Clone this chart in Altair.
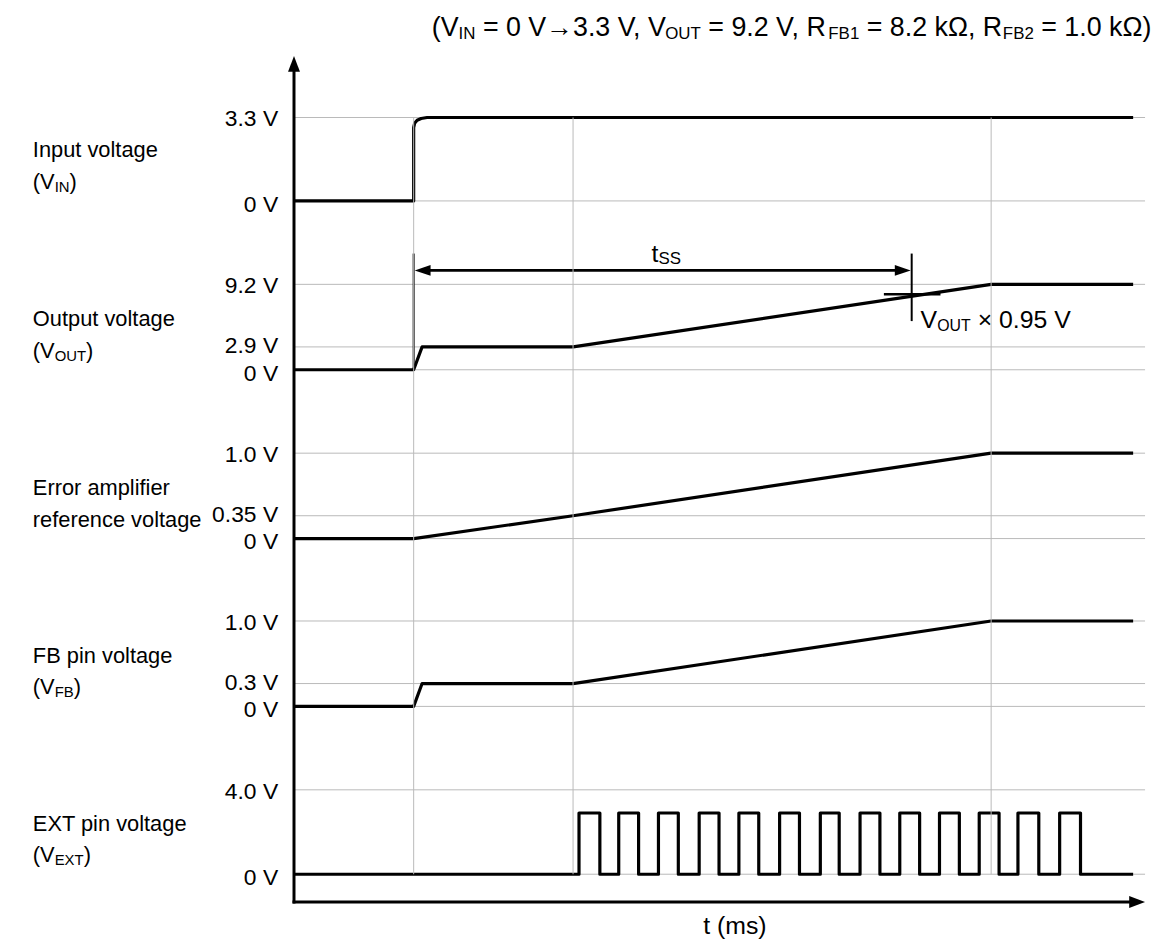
import altair as alt
import pandas as pd

# ===================== values =====================
# schematic time axis (ms): t = 0 at the vertical axis
vin_t = [0.0, 1.205, 1.205, 1.215, 1.24, 1.28, 1.34, 8.45]
vin_v = [0.0, 0.0, 2.90, 3.08, 3.19, 3.26, 3.30, 3.30]

vout_t = [0.0, 1.205, 1.29, 2.81, 7.02, 8.45]
vout_v = [0.0, 0.0, 2.9, 2.9, 9.2, 9.2]

err_t = [0.0, 1.205, 2.81, 7.02, 8.45]
err_v = [0.0, 0.0, 0.35, 1.0, 1.0]

fb_t = [0.0, 1.205, 1.29, 2.81, 7.02, 8.45]
fb_v = [0.0, 0.0, 0.3, 0.3, 1.0, 1.0]

ext_rise = [2.87, 3.27, 3.67, 4.08, 4.48, 4.89, 5.30, 5.70, 6.10, 6.50, 6.90, 7.29, 7.71]
ext_fall = [3.08, 3.47, 3.87, 4.28, 4.68, 5.09, 5.49, 5.90, 6.30, 6.70, 7.10, 7.50, 7.92]
ext_high = 2.9
ext_t_end = 8.45

event_t = [1.205, 2.81, 7.02]          # vertical reference lines
tss_t = [1.205, 6.22]                  # soft-start interval t_SS
tss_level = 10.6                       # arrow height on the V_OUT lane (V)
marker_top = 12.3
marker2_bottom = 5.5
vout95_level = 8.2
vout95_span = [5.94, 6.51]

lane_titles = ["Input voltage", "Output voltage", "Error amplifier",
               "FB pin voltage", "EXT pin voltage"]
lane_second = [
    [("(V", 0), ("IN", 1), (")", 0)],
    [("(V", 0), ("OUT", 1), (")", 0)],
    [("reference voltage", 0)],
    [("(V", 0), ("FB", 1), (")", 0)],
    [("(V", 0), ("EXT", 1), (")", 0)],
]
lane_ticks = [[0, 3.3], [0, 2.9, 9.2], [0, 0.35, 1.0], [0, 0.3, 1.0], [0, 4.0]]
lane_tick_labels = [["0 V", "3.3 V"], ["0 V", "2.9 V", "9.2 V"],
                    ["0 V", "0.35 V", "1.0 V"], ["0 V", "0.3 V", "1.0 V"],
                    ["0 V", "4.0 V"]]
lane_tick_kind = [["zero", "top"], ["zero", "mid", "top"], ["zero", "mid", "top"],
                  ["zero", "mid", "top"], ["zero", "top"]]

title_segments = [("(V", 0), ("IN", 1), (" = 0 V\u21923.3 V, V", 0), ("OUT", 1),
                  (" = 9.2 V, R", 0), ("FB1", 1), (" = 8.2 k\u03a9, R", 0),
                  ("FB2", 1), (" = 1.0 k\u03a9)", 0)]
tss_segments = [("t", 0), ("SS", 1)]
vout95_segments = [("V", 0), ("OUT", 1), (" \u00d7 0.95 V", 0)]
x_title = "t (ms)"

# ===================== layout / style =====================
W, H = 1153, 939
AXIS_X = 288                    # plot x of vertical axis
PX_PER_MS = 100.0
T_MIN = -AXIS_X / PX_PER_MS
T_MAX = T_MIN + W / PX_PER_MS
GRID_END_T = 8.57
LABEL_T = -2.63
lane_zero = [191, 361, 531, 700, 869]
lane_offsets = [[0, 84], [0, 23, 86], [0, 23, 86], [0, 23, 86], [0, 85]]
X_AXIS_Y = 897
Y_HEAD_Y = 53
X_HEAD_T = 8.49
FONT = "Liberation Sans"
GRID = "#b9b9b9"
INK = "#000000"
TICK_FONT = 23
TICK_DY = {"zero": 4, "mid": -1, "top": 2}
TITLE_RIGHT = 1152
HEAD_UP = "M0,-1L0.75,1L-0.75,1Z"
HEAD_RIGHT = "M1,0L-1,-0.75L-1,0.75Z"
HEAD_L_SMALL = "M-1,0L1,-0.68L1,0.68Z"
HEAD_R_SMALL = "M1,0L-1,-0.68L-1,0.68Z"

CW = {' ': 278, '(': 333, ')': 333, '=': 584, '.': 278, ',': 278,
      '\u2192': 880, '\u03a9': 768, '\u00d7': 584, 'k': 500, 't': 278, 's': 500,
      'm': 833, 'V': 667, 'I': 278, 'N': 722, 'O': 778, 'U': 722, 'T': 611,
      'R': 722, 'F': 611, 'B': 667, 'S': 667, 'E': 667, 'X': 667, 'r': 333,
      'e': 556, 'f': 278, 'n': 556, 'c': 500, 'v': 500, 'o': 556, 'l': 222,
      'a': 556, 'g': 556}


def tw(s, size):
    return sum(CW.get(c, 556) for c in s) * size / 1000.0


def rich(segments, main, sub):
    """Split a label with subscripts into positioned pieces.
    Leading spaces are rendered as an offset (text marks drop them)."""
    out, x = [], 0.0
    for s, is_sub in segments:
        size = sub if is_sub else main
        body = s.lstrip(" ")
        lead = s[:len(s) - len(body)]
        out.append((body, x + tw(lead, size), size, 3 if is_sub else 0))
        x += tw(s, size)
    return out, x


xscale = alt.Scale(domain=[T_MIN, T_MAX], nice=False, zero=False)
one = pd.DataFrame({"k": [0]})


def XF(f):
    return alt.X(f, scale=xscale, axis=None)


def XD(v):
    return alt.XDatum(v, scale=xscale, axis=None)


def line_df(ts, vs):
    return pd.DataFrame({"t": ts, "v": vs, "i": list(range(len(ts)))})


ext_pts_t, ext_pts_v = [0.0], [0.0]
for r, f in zip(ext_rise, ext_fall):
    ext_pts_t += [r, r, f, f]
    ext_pts_v += [0.0, ext_high, ext_high, 0.0]
ext_pts_t.append(ext_t_end)
ext_pts_v.append(0.0)

waves = [line_df(vin_t, vin_v), line_df(vout_t, vout_v), line_df(err_t, err_v),
         line_df(fb_t, fb_v), line_df(ext_pts_t, ext_pts_v)]


def text_pieces(segments, main, sub, x_enc, y_enc, dx0=0, dy0=0):
    pieces, _ = rich(segments, main, sub)
    return [alt.Chart(one).mark_text(
        align="left", baseline="alphabetic", dx=dx0 + dx, dy=dy0 + dy,
        fontSize=size, font=FONT, color=INK, text=s).encode(x=x_enc, y=y_enc)
        for s, dx, size, dy in pieces]


def lane_chart(i):
    ys = alt.Scale(domain=lane_ticks[i],
                   range=[lane_zero[i] - o for o in lane_offsets[i]],
                   nice=False, zero=False)

    def YF(f):
        return alt.Y(f, scale=ys, axis=None)

    def YD(v):
        return alt.YDatum(v, scale=ys, axis=None)

    ticks = pd.DataFrame({"v": lane_ticks[i], "label": lane_tick_labels[i],
                          "kind": lane_tick_kind[i]})
    layers = [
        alt.Chart(ticks).mark_rule(color=GRID, strokeWidth=1).encode(
            x=XD(0), x2=alt.X2Datum(GRID_END_T), y=YF("v:Q")),
        alt.Chart(waves[i]).mark_line(color=INK, strokeWidth=3.2, strokeJoin="round").encode(
            x=XF("t:Q"), y=YF("v:Q"), order="i:Q"),
    ]
    for kind, dy in TICK_DY.items():
        if kind not in lane_tick_kind[i]:
            continue
        layers.append(alt.Chart(ticks).transform_filter(
            alt.datum.kind == kind
        ).mark_text(align="right", baseline="middle", dx=-16, dy=dy,
                    fontSize=TICK_FONT, font=FONT, color=INK).encode(
            x=XD(0), y=YF("v:Q"), text="label:N"))
    layers.append(alt.Chart(one).mark_text(
        align="left", baseline="alphabetic", dy=-44, fontSize=22, font=FONT,
        color=INK, text=lane_titles[i]).encode(x=XD(LABEL_T), y=YD(0)))
    layers += text_pieces(lane_second[i], 22, 15, XD(LABEL_T), YD(0), dy0=-12)

    if i == 1:  # t_SS annotation on the V_OUT lane
        mk = pd.DataFrame({"t": [tss_t[0], tss_t[1]], "v0": [0.0, marker2_bottom],
                           "v1": [marker_top, marker_top]})
        layers.append(alt.Chart(mk).mark_rule(color=INK, strokeWidth=2).encode(
            x=XF("t:Q"), y=YF("v0:Q"), y2="v1:Q"))
        half = 8 / PX_PER_MS
        layers.append(alt.Chart(one).mark_rule(color=INK, strokeWidth=2.8).encode(
            x=XD(tss_t[0] + half), x2=alt.X2Datum(tss_t[1] - half), y=YD(tss_level)))
        layers.append(alt.Chart(one).mark_point(shape=HEAD_L_SMALL, size=256, filled=True,
                                                color=INK, opacity=1, strokeWidth=0).encode(
            x=XD(tss_t[0] + 0.01 + half), y=YD(tss_level)))
        layers.append(alt.Chart(one).mark_point(shape=HEAD_R_SMALL, size=256, filled=True,
                                                color=INK, opacity=1, strokeWidth=0).encode(
            x=XD(tss_t[1] - 0.01 - half), y=YD(tss_level)))
        layers.append(alt.Chart(one).mark_rule(color=INK, strokeWidth=2.6).encode(
            x=XD(vout95_span[0]), x2=alt.X2Datum(vout95_span[1]), y=YD(vout95_level)))
        layers += text_pieces(tss_segments, 25, 17, XD(3.60), YD(11.5))
        layers += text_pieces(vout95_segments, 25, 16, XD(6.31), YD(4.8))
    return alt.layer(*layers)


# ---------------- frame: axes, arrows, event lines, titles ----------------
frame = [
    alt.Chart(pd.DataFrame({"t": event_t})).mark_rule(color=GRID, strokeWidth=1).encode(
        x=XF("t:Q"), y=alt.value(lane_zero[0] - lane_offsets[0][-1]),
        y2=alt.value(lane_zero[4])),
    alt.Chart(one).mark_rule(color=INK, strokeWidth=3, strokeCap="square").encode(
        x=XD(0), y=alt.value(Y_HEAD_Y + 6), y2=alt.value(X_AXIS_Y)),
    alt.Chart(one).mark_rule(color=INK, strokeWidth=3, strokeCap="square").encode(
        x=XD(0), x2=alt.X2Datum(X_HEAD_T - 0.06), y=alt.value(X_AXIS_Y)),
    alt.Chart(one).mark_point(shape=HEAD_UP, size=256, filled=True, color=INK,
                              opacity=1, strokeWidth=0).encode(
        x=XD(0), y=alt.value(Y_HEAD_Y)),
    alt.Chart(one).mark_point(shape=HEAD_RIGHT, size=256, filled=True, color=INK,
                              opacity=1, strokeWidth=0).encode(
        x=XD(X_HEAD_T), y=alt.value(X_AXIS_Y)),
    alt.Chart(one).mark_text(align="center", baseline="alphabetic", fontSize=25,
                             font=FONT, color=INK, text=x_title).encode(
        x=XD(4.44), y=alt.value(929)),
]
pieces, total = rich(title_segments, 27, 17)
title_x0 = TITLE_RIGHT - total
for s, dx, size, dy in pieces:
    frame.append(alt.Chart(one).mark_text(
        align="left", baseline="alphabetic", fontSize=size, font=FONT, color=INK,
        text=s).encode(x=alt.value(title_x0 + dx), y=alt.value(25 + dy)))

chart = alt.layer(*[lane_chart(i) for i in range(5)], *frame).resolve_scale(
    y="independent"
).properties(
    width=W, height=H, padding=0,
    autosize=alt.AutoSizeParams(type="none"),
    background="white",
).configure_view(stroke=None)

chart.save("out.html", embed_options={"renderer": "svg", "actions": False})
